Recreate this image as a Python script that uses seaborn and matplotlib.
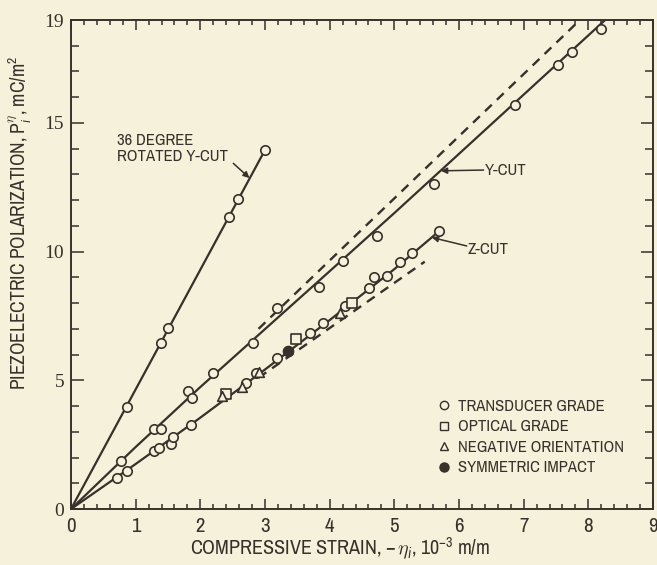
import matplotlib
matplotlib.use("Agg")
import matplotlib.pyplot as plt
import matplotlib.font_manager as fm
from matplotlib.lines import Line2D
from matplotlib.ticker import MultipleLocator
import seaborn as sns

rot36_x = [0.86, 1.39, 1.50, 2.45, 2.59, 3.00]
rot36_y = [3.95, 6.46, 7.04, 11.33, 12.03, 13.95]

ycut_x = [0.77, 1.29, 1.39, 1.81, 1.87, 2.20, 2.81, 3.18, 3.83, 4.21, 4.73, 5.62, 6.87, 7.53, 7.75, 8.19]
ycut_y = [1.88, 3.12, 3.12, 4.60, 4.33, 5.27, 6.46, 7.80, 8.64, 9.64, 10.61, 12.63, 15.71, 17.24, 17.77, 18.66]

zcut_x = [0.71, 0.86, 1.28, 1.36, 1.55, 1.57, 1.85, 2.71, 2.86, 3.18, 3.69, 3.90, 4.23, 4.61, 4.68, 4.89, 5.09, 5.28, 5.69]
zcut_y = [1.19, 1.49, 2.27, 2.36, 2.54, 2.81, 3.25, 4.91, 5.30, 5.86, 6.82, 7.24, 7.89, 8.57, 9.01, 9.05, 9.61, 9.96, 10.79]

optical_x = [2.40, 3.48, 4.35]
optical_y = [4.47, 6.59, 7.99]

negative_x = [2.34, 2.64, 2.91, 4.16]
negative_y = [4.39, 4.75, 5.33, 7.60]

impact_x = [3.35]
impact_y = [6.12]

# fitted curves (solid) and initial slopes (dashed)
rot36_fit_x = [0, 3.00]
rot36_fit_y = [0, 13.95]
ycut_fit_x = [0, 1, 2, 3, 4, 5, 6, 7, 8.26]
ycut_fit_y = [0, 2.41, 4.74, 6.99, 9.24, 11.5, 13.8, 16.1, 19.0]
ycut_dash_x = [2.9, 7.87]
ycut_dash_y = [7.0, 19.0]
zcut_fit_x = [0, 1, 2, 3, 4, 5, 5.69]
zcut_fit_y = [0, 1.75, 3.55, 5.42, 7.34, 9.32, 10.79]
zcut_dash_x = [2.9, 5.47]
zcut_dash_y = [5.10, 9.61]

legend_labels = ["TRANSDUCER GRADE", "OPTICAL GRADE", "NEGATIVE ORIENTATION", "SYMMETRIC IMPACT"]

paper = "#f6f1da"
ink = "#36312b"

sns.set_theme(style="ticks")

# the scan uses a condensed face; take one if the system has it
narrow = None
for f in fm.fontManager.ttflist:
    if ("Narrow" in f.name or "Condensed" in f.name) and f.style == "normal":
        narrow = f.name
        break
scale = 1.0 if narrow else 0.82
if narrow is None:
    narrow = "DejaVu Sans"

plt.rcParams["font.family"] = [narrow, "DejaVu Sans"]
plt.rcParams["mathtext.fontset"] = "custom"
plt.rcParams["mathtext.rm"] = narrow
plt.rcParams["mathtext.it"] = narrow + ":italic"
plt.rcParams["text.color"] = ink
plt.rcParams["axes.labelcolor"] = ink

fig = plt.figure(figsize=(6.57, 5.65), dpi=100, facecolor=paper)
ax = fig.add_axes([0.1081, 0.0991, 0.8858, 0.8655], facecolor=paper)

# lines
for fx, fy in [(rot36_fit_x, rot36_fit_y), (ycut_fit_x, ycut_fit_y), (zcut_fit_x, zcut_fit_y)]:
    sns.lineplot(x=fx, y=fy, ax=ax, color=ink, lw=1.6, sort=False, zorder=2)
for fx, fy in [(ycut_dash_x, ycut_dash_y), (zcut_dash_x, zcut_dash_y)]:
    sns.lineplot(x=fx, y=fy, ax=ax, color=ink, lw=1.7, sort=False, zorder=2,
                 linestyle=(0, (4, 3)))

# points
groups = [
    (rot36_x + ycut_x + zcut_x, rot36_y + ycut_y + zcut_y, "o", paper, 46),
    (optical_x, optical_y, "s", paper, 42),
    (negative_x, negative_y, "^", paper, 48),
    (impact_x, impact_y, "o", ink, 52),
]
for gx, gy, mk, fc, sz in groups:
    sns.scatterplot(x=gx, y=gy, ax=ax, marker=mk, s=sz, color=fc,
                    edgecolor=ink, linewidth=1.2, zorder=3, legend=False)

ax.set_xlim(0, 9)
ax.set_ylim(0, 19)
ax.set_xticks(range(0, 10))
ax.set_yticks([0, 5, 10, 15, 19])
ax.xaxis.set_minor_locator(MultipleLocator(0.2))
ax.yaxis.set_minor_locator(MultipleLocator(1))
ax.tick_params(which="both", direction="in", top=True, right=True, color=ink,
               width=1.1, labelcolor=ink)
ax.tick_params(axis="x", which="major", length=7, pad=6, labelsize=15 * scale)
ax.tick_params(axis="x", which="minor", length=3.5)
ax.tick_params(axis="y", which="major", length=9, pad=5, labelsize=14)
ax.tick_params(axis="y", which="minor", length=5.5)
for lab in ax.get_yticklabels():
    lab.set_family("Liberation Serif")
for sp in ax.spines.values():
    sp.set_color(ink)
    sp.set_linewidth(1.4)

ax.set_xlabel(r"COMPRESSIVE STRAIN, $-\,\eta_{i}$, $10^{-3}$ m/m", fontsize=14.5 * scale)
ax.set_ylabel(r"PIEZOELECTRIC POLARIZATION, $\mathrm{P}_{i}^{\eta}$, mC/m$^{2}$",
              fontsize=14 * scale)
ax.xaxis.set_label_coords(0.462, -0.054)
ax.yaxis.set_label_coords(-0.066, 0.585)

# curve labels
fs = 12 * scale
ax.text(0.71, 14.6, "36 DEGREE\nROTATED Y-CUT", ha="left", va="top",
        fontsize=fs, linespacing=1.1)
ax.text(6.40, 13.17, "Y-CUT", ha="left", va="center", fontsize=fs)
ax.text(6.14, 10.10, "Z-CUT", ha="left", va="center", fontsize=fs)
arrow = dict(arrowstyle="-|>", color=ink, lw=1.1, mutation_scale=9, shrinkA=0, shrinkB=0)
ax.annotate("", xy=(2.76, 12.86), xytext=(2.51, 13.43), arrowprops=arrow)
ax.annotate("", xy=(5.72, 13.14), xytext=(6.38, 13.17), arrowprops=arrow)
ax.annotate("", xy=(5.58, 10.55), xytext=(6.12, 10.22), arrowprops=arrow)

handles = [
    Line2D([], [], ls="", marker="o", ms=6, mfc=paper, mec=ink, mew=1.0),
    Line2D([], [], ls="", marker="s", ms=5.5, mfc=paper, mec=ink, mew=1.0),
    Line2D([], [], ls="", marker="^", ms=6, mfc=paper, mec=ink, mew=1.0),
    Line2D([], [], ls="", marker="o", ms=6.5, mfc=ink, mec=ink, mew=1.0),
]
ax.legend(handles, legend_labels, loc="upper left", bbox_to_anchor=(0.630, 0.225),
          frameon=False, fontsize=fs, handlelength=0.8, handletextpad=0.45,
          labelspacing=0.45 if scale < 1 else 0.33, borderpad=0, borderaxespad=0)

fig.savefig("out.png", dpi=100, facecolor=paper)
